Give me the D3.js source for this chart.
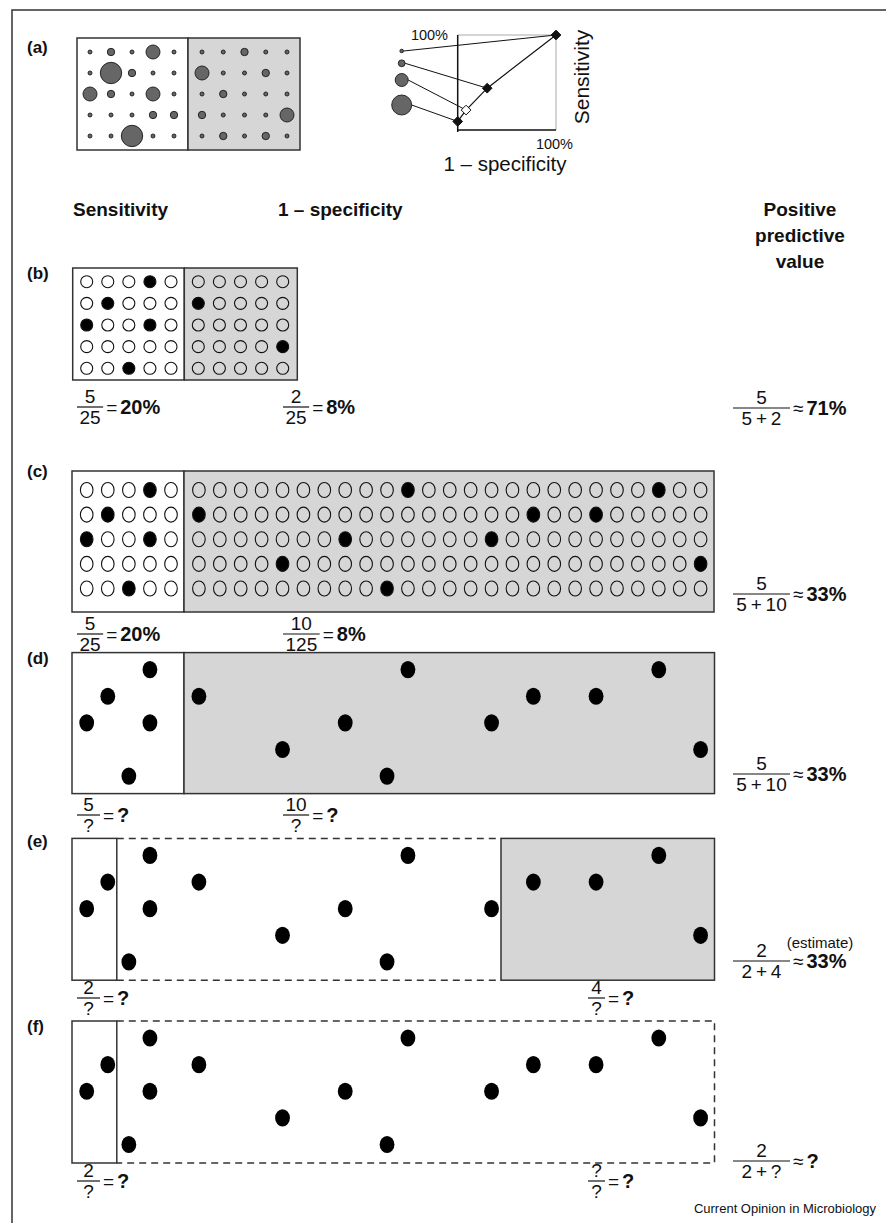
<!DOCTYPE html>
<html>
<head>
  <meta charset="utf-8">
  <script src="https://d3js.org/d3.v7.min.js"></script>
  <style>
    body { margin: 0; background: #fff; }
    svg text { font-family: "Liberation Sans", Arial, sans-serif; fill: #111; }
    .bold { font-weight: bold; }
  </style>
</head>
<body>
  <svg id="fig" width="886" height="1223"></svg>
  <script>
    // ---- data ----
    // (a) circle size codes 0..3 per 5x5 grid, diseased half and healthy half
    const sizesPos = [
      [0, 1, 0, 2, 0],
      [0, 3, 1, 0, 0],
      [2, 1, 0, 2, 0],
      [0, 0, 0, 1, 1],
      [0, 0, 3, 0, 0]
    ];
    const sizesNeg = [
      [0, 0, 1, 0, 0],
      [2, 0, 0, 1, 0],
      [0, 1, 0, 0, 0],
      [1, 0, 0, 0, 2],
      [0, 1, 0, 1, 0]
    ];
    const sizeRadius = [2, 3.7, 7, 10.7];
    // ROC points (1 - specificity, sensitivity); one per threshold size
    const rocFpr = [1, 0.30, 0.085, 0];
    const rocTpr = [1, 0.44, 0.21, 0.09];
    const rocOpen = [false, false, true, false];
    const legendRadius = [1.8, 3.4, 6.5, 10];

    // test positive cells [row, col]
    const hitsPos = [[0, 3], [1, 1], [2, 0], [2, 3], [4, 2]];
    const hitsNegSmall = [[1, 0], [3, 4]];
    const hitsNegLarge = [[0, 10], [0, 22], [1, 0], [1, 16], [1, 19], [2, 7], [2, 14], [3, 4], [3, 24], [4, 9]];

    const panelLabels = ["(a)", "(b)", "(c)", "(d)", "(e)", "(f)"];
    const headers = ["Sensitivity", "1 \u2013 specificity"];
    const ppvHeader = ["Positive", "predictive", "value"];

    // fractions: [num, den, op, rhs]
    const sensFracs = [["5", "25", "=", "20%"], ["5", "25", "=", "20%"], ["5", "?", "=", "?"], ["2", "?", "=", "?"], ["2", "?", "=", "?"]];
    const specFracs = [["2", "25", "=", "8%"], ["10", "125", "=", "8%"], ["10", "?", "=", "?"], ["4", "?", "=", "?"], ["?", "?", "=", "?"]];
    const ppvFracs = [["5", "5\u2009+\u20092", "\u2248", "71%"], ["5", "5\u2009+\u200910", "\u2248", "33%"], ["5", "5\u2009+\u200910", "\u2248", "33%"], ["2", "2\u2009+\u20094", "\u2248", "33%"], ["2", "2\u2009+\u2009?", "\u2248", "?"]];

    const svg = d3.select("#fig");
    const gray = "#d6d6d6", edge = "#333";

    // frame
    svg.append("path").attr("d", "M12,1223 V10 H886").attr("fill", "none").attr("stroke", edge).attr("stroke-width", 1.5);

    // panel labels
    const labelY = [53, 279, 477, 664, 847, 1032];
    svg.selectAll("text.plabel").data(panelLabels).join("text")
      .attr("class", "plabel bold").attr("x", 27).attr("y", (d, i) => labelY[i])
      .attr("font-size", 17).text(d => d);

    // ---- (a) ----
    const ax = d3.scalePoint().domain(d3.range(5)).range([90, 174]);
    const ax2 = d3.scalePoint().domain(d3.range(5)).range([202, 287]);
    const ay = d3.scalePoint().domain(d3.range(5)).range([52, 136]);
    svg.append("rect").attr("x", 77).attr("y", 38).attr("width", 111).attr("height", 112).attr("fill", "#fff").attr("stroke", edge).attr("stroke-width", 1.5);
    svg.append("rect").attr("x", 188).attr("y", 38).attr("width", 112).attr("height", 112).attr("fill", gray).attr("stroke", edge).attr("stroke-width", 1.5);
    function sizeGrid(data, xs) {
      const cells = [];
      data.forEach((row, r) => row.forEach((s, c) => cells.push({ r, c, s })));
      svg.append("g").selectAll("circle").data(cells).join("circle")
        .attr("cx", d => xs(d.c)).attr("cy", d => ay(d.r)).attr("r", d => sizeRadius[d.s])
        .attr("fill", "#666").attr("stroke", "#1a1a1a").attr("stroke-width", 0.9);
    }
    sizeGrid(sizesPos, ax);
    sizeGrid(sizesNeg, ax2);

    // ROC inset
    const rx = d3.scaleLinear().domain([0, 1]).range([457.7, 556]);
    const ry = d3.scaleLinear().domain([0, 1]).range([130, 35]);
    const roc = svg.append("g");
    roc.append("path").attr("d", `M${rx(0)},${ry(1)} H${rx(1)} V${ry(0)}`).attr("fill", "none").attr("stroke", "#aaa").attr("stroke-width", 1);
    roc.append("path").attr("d", `M${rx(0)},${ry(1)} V${ry(0) + 2} M${rx(0)},${ry(0)} H${rx(1)}`).attr("fill", "none").attr("stroke", "#111").attr("stroke-width", 1.5);
    const legY = [51, 63.3, 80, 105];
    rocFpr.forEach((f, i) => {
      roc.append("line").attr("x1", 401.7 + legendRadius[i]).attr("y1", legY[i]).attr("x2", rx(f)).attr("y2", ry(rocTpr[i]))
        .attr("stroke", "#111").attr("stroke-width", 1);
      roc.append("circle").attr("cx", 401.7).attr("cy", legY[i]).attr("r", legendRadius[i])
        .attr("fill", "#666").attr("stroke", "#1a1a1a").attr("stroke-width", 0.9);
    });
    const line = d3.line().x(d => rx(d[0])).y(d => ry(d[1]));
    roc.append("path").attr("d", line(rocFpr.map((f, i) => [f, rocTpr[i]]))).attr("fill", "none").attr("stroke", "#111").attr("stroke-width", 1.2);
    roc.selectAll("path.dia").data(rocFpr).join("path").attr("class", "dia")
      .attr("d", d3.symbol(d3.symbolDiamond2, 60))
      .attr("transform", (d, i) => `translate(${rx(d)},${ry(rocTpr[i])})`)
      .attr("fill", (d, i) => rocOpen[i] ? "#fff" : "#111").attr("stroke", "#111").attr("stroke-width", 1);
    roc.append("text").attr("x", 448).attr("y", 40).attr("text-anchor", "end").attr("font-size", 14.5).text("100%");
    roc.append("text").attr("x", 573).attr("y", 149).attr("text-anchor", "end").attr("font-size", 14.5).text("100%");
    roc.append("text").attr("x", 505).attr("y", 171).attr("text-anchor", "middle").attr("font-size", 20.5).text("1 \u2013 specificity");
    roc.append("text").attr("transform", "translate(589,77) rotate(-90)").attr("text-anchor", "middle").attr("font-size", 21).text("Sensitivity");

    // headers
    svg.append("text").attr("class", "bold").attr("x", 73).attr("y", 216).attr("font-size", 19).text(headers[0]);
    svg.append("text").attr("class", "bold").attr("x", 278).attr("y", 216).attr("font-size", 19).text(headers[1]);
    svg.selectAll("text.ppvh").data(ppvHeader).join("text").attr("class", "ppvh bold")
      .attr("x", 800).attr("y", (d, i) => 216 + i * 26).attr("text-anchor", "middle").attr("font-size", 19).text(d => d);

    // ---- (b) and (c) grids ----
    const leftCols = d3.scalePoint().domain(d3.range(5)).range([86.7, 171]);
    function box(x, y, w, h, fill) {
      svg.append("rect").attr("x", x).attr("y", y).attr("width", w).attr("height", h)
        .attr("fill", fill).attr("stroke", edge).attr("stroke-width", 1.5);
    }
    function grid(cols, ncols, rows, hits, fill, rxx, ryy) {
      const cells = [];
      for (let r = 0; r < 5; r++) for (let c = 0; c < ncols; c++) {
        cells.push({ r, c, hit: hits.some(h => h[0] === r && h[1] === c) });
      }
      svg.append("g").selectAll("ellipse").data(cells).join("ellipse")
        .attr("cx", d => cols(d.c)).attr("cy", d => rows(d.r)).attr("rx", rxx).attr("ry", ryy)
        .attr("fill", d => d.hit ? "#000" : fill).attr("stroke", "#111").attr("stroke-width", 1.1);
    }
    // (b)
    box(72.7, 268, 111.6, 112, "#fff");
    box(184.3, 268, 113, 112, gray);
    const rowsB = d3.scalePoint().domain(d3.range(5)).range([281.7, 368.3]);
    grid(leftCols, 5, rowsB, hitsPos, "#fff", 6, 6);
    grid(d3.scalePoint().domain(d3.range(5)).range([198.3, 282.7]), 5, rowsB, hitsNegSmall, "none", 6, 6);

    // (c)
    const bigCols = d3.scalePoint().domain(d3.range(25)).range([198.9, 700.6]);
    box(72, 471, 112, 141, "#fff");
    box(184, 471, 530, 141, gray);
    const rowsC = d3.scalePoint().domain(d3.range(5)).range([490, 588.5]);
    grid(leftCols, 5, rowsC, hitsPos, "#fff", 6.3, 7.5);
    grid(bigCols, 25, rowsC, hitsNegLarge, "none", 6.3, 7.5);

    // dots only (d, e, f)
    function dots(top) {
      const rows = d3.scalePoint().domain(d3.range(5)).range([top + 17, top + 123.5]);
      const pts = hitsPos.map(h => [leftCols(h[1]), rows(h[0])]).concat(hitsNegLarge.map(h => [bigCols(h[1]), rows(h[0])]));
      svg.append("g").selectAll("ellipse").data(pts).join("ellipse")
        .attr("cx", d => d[0]).attr("cy", d => d[1]).attr("rx", 7.4).attr("ry", 8.6).attr("fill", "#000");
    }
    // (d)
    box(72, 652.6, 112, 141, "#fff");
    box(184, 652.6, 530.5, 141, gray);
    dots(652.6);

    // (e)
    const dash = "7,5";
    box(72, 838.4, 44.8, 141.8, "#fff");
    box(501, 838.4, 213.5, 141.8, gray);
    svg.append("path").attr("d", "M116.8,838.4 H501 M116.8,980.2 H501").attr("stroke", edge).attr("stroke-width", 1.5).attr("stroke-dasharray", dash).attr("fill", "none");
    dots(838.4);

    // (f)
    box(72, 1021, 44.8, 142, "#fff");
    svg.append("path").attr("d", "M116.8,1021 H714.5 V1163 H116.8").attr("stroke", edge).attr("stroke-width", 1.5).attr("stroke-dasharray", dash).attr("fill", "none");
    dots(1021);

    // ---- fractions ----
    function frac(x, yBar, f, minW) {
      const g = svg.append("g");
      const n = g.append("text").attr("y", yBar - 4).attr("text-anchor", "middle").attr("font-size", 19).text(f[0]);
      const d = g.append("text").attr("y", yBar + 17).attr("text-anchor", "middle").attr("font-size", 19).text(f[1]);
      const w = Math.max(n.node().getComputedTextLength(), d.node().getComputedTextLength(), minW || 0) + 5;
      n.attr("x", x + w / 2); d.attr("x", x + w / 2);
      g.append("line").attr("x1", x).attr("x2", x + w).attr("y1", yBar).attr("y2", yBar).attr("stroke", "#111").attr("stroke-width", 1.2);
      const op = g.append("text").attr("x", x + w + 3).attr("y", yBar + 7).attr("font-size", 19).text(f[2]);
      g.append("text").attr("class", "bold").attr("x", x + w + 6 + op.node().getComputedTextLength()).attr("y", yBar + 7).attr("font-size", 20).text(f[3]);
    }
    const sensY = [407, 634, 815, 998, 1181];
    const specX = [283, 283, 283, 588, 588];
    const ppvY = [408, 594, 774, 961, 1161];
    sensFracs.forEach((f, i) => frac(77, sensY[i], f, 18));
    specFracs.forEach((f, i) => frac(specX[i], sensY[i], f, 12));
    ppvFracs.forEach((f, i) => frac(733, ppvY[i], f, 52));

    svg.append("text").attr("x", 820).attr("y", 948).attr("text-anchor", "middle").attr("font-size", 15).text("(estimate)");
    svg.append("text").attr("x", 876).attr("y", 1213).attr("text-anchor", "end").attr("font-size", 13).text("Current Opinion in Microbiology");
  </script>
</body>
</html>
